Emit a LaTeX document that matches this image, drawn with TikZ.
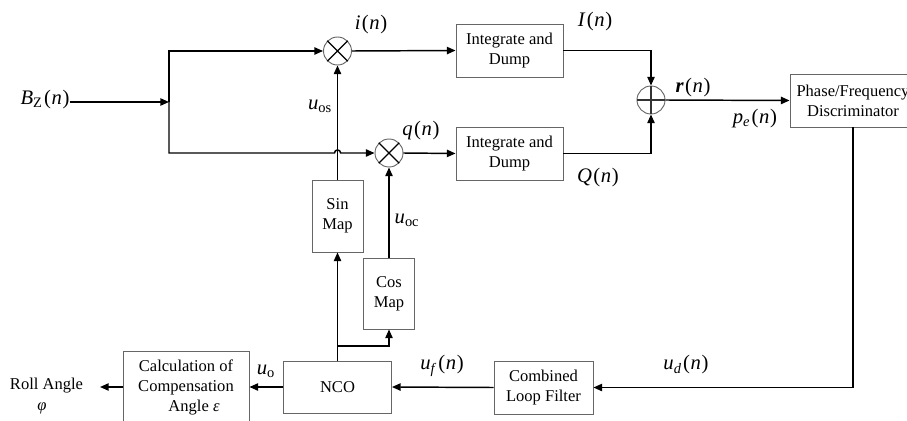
\documentclass[tikz,border=0pt]{standalone}
\usepackage{fontspec}
\setmainfont{Liberation Serif}
\usetikzlibrary{arrows.meta}
\newcommand{\lbl}[1]{\fontsize{15.5}{18}\selectfont #1}
\newcommand{\argn}{\kern1pt(\kern0.5pt\textit{n}\kern0.5pt)}
\begin{document}
\begin{tikzpicture}[x=0.75pt,y=-0.75pt,
  blk/.style={draw=black!60, line width=0.7pt, align=center, inner sep=0pt,
    font=\fontsize{12.4}{15}\selectfont},
  mix/.style={circle, draw=black!60, line width=0.7pt, minimum size=21pt, inner sep=0pt},
  conn/.style={line width=1.1pt, line join=miter},
  arr/.style={conn, -{Triangle[length=6.5pt,width=5.5pt]}},
  lab/.style={inner sep=0pt, font=\lbl}]
\useasboundingbox (0,0) rectangle (907,421);
% blocks
\node[blk, minimum width=80.25pt, minimum height=39.75pt] (id1) at (509.5,50.5) {Integrate and\\Dump};
\node[blk, minimum width=80.25pt, minimum height=39.75pt] (id2) at (509.5,153.5) {Integrate and\\Dump};
\node[blk, minimum width=94.5pt, minimum height=39.75pt] (pfd) at (853,100.5) {Phase/Frequency\\Discriminator};
\node[blk, minimum width=74.25pt, minimum height=39.75pt] (clf) at (543.5,387.5) {Combined\\Loop Filter};
\node[blk, minimum width=81pt, minimum height=39pt] (nco) at (337.5,387) {NCO};
\node[blk, minimum width=94.5pt, minimum height=54pt] (calc) at (186,387) {Calculation of\\Compensation\\\hspace*{12pt}Angle \textit{ε}};
\node[blk, minimum width=38.25pt, minimum height=54pt] (sin) at (337.5,216) {Sin\\Map};
\node[blk, minimum width=38.25pt, minimum height=53.25pt] (cos) at (389,293.5) {Cos\\Map};
% mixers and sum
\node[mix] (mi) at (337.5,51) {};
\draw[line width=1pt] (mi.45) -- (mi.225) (mi.135) -- (mi.315);
\node[mix] (mq) at (389,153) {};
\draw[line width=1pt] (mq.45) -- (mq.225) (mq.135) -- (mq.315);
\node[mix] (sum) at (651,100) {};
\draw[line width=0.9pt, black!80] (sum.north) -- (sum.south) (sum.west) -- (sum.east);
% coordinates
\coordinate (sp) at (169,102);
\coordinate (jl) at (334.5,153);
\coordinate (br) at (337.5,346);
\coordinate (rollend) at (100,387);
% labels
\node[lab] (bz) at (45,100) {\textit{B}\textsubscript{Z}\argn};
\node[lab] (il) at (371,25) {\textit{i}\argn};
\node[lab] (ql) at (421,131) {\textit{q}\argn};
\node[lab] (Il) at (595,22) {\textit{I}\argn};
\node[lab] (Ql) at (598,178) {\textit{Q}\argn};
\node[lab] (rl) at (693,88) {\textbf{\textit{r}}\argn};
\node[lab] (pl) at (755,119) {\textit{p}\textsubscript{\textit{e}}\argn};
\node[lab] (udl) at (686,365) {\textit{u}\textsubscript{\textit{d}}\argn};
\node[lab] (ufl) at (442,366) {\textit{u}\textsubscript{\textit{f}}\argn};
\node[lab] (uol) at (266,371) {\textit{u}\textsubscript{o}};
\node[lab] (uosl) at (320,106) {\textit{u}\textsubscript{os}};
\node[lab] (uocl) at (407,220) {\textit{u}\textsubscript{oc}};
\node[inner sep=0pt, align=center, font=\fontsize{12.4}{16}\selectfont] (roll) at (46.5,396) {Roll Angle\\\textit{φ}\hspace*{7pt}};
% connectors
\draw[arr] (bz.east |- sp) -- (sp);
\draw[arr] (sp) |- (mi.west);
\draw[arr] (sp) |- (jl) arc[start angle=180, end angle=0, radius=2.3pt] -- (mq.west);
\draw[arr] (sin.north) -- (mi.south);
\draw[arr] (cos.north) -- (mq.south);
\draw[arr] (mi.east) -- (id1.west);
\draw[arr] (mq.east) -- (id2.west);
\draw[arr] (id1.east) -| (sum.north);
\draw[arr] (id2.east) -| (sum.south);
\draw[arr] (sum.east) -- (pfd.west);
\draw[arr] (pfd.south) |- (clf.east);
\draw[arr] (clf.west) -- (nco.east);
\draw[arr] (nco.west) -- (calc.east);
\draw[arr] (calc.west) -- (rollend);
\draw[arr] (nco.north) -- (sin.south);
\draw[arr] (br) -| (cos.south);
\end{tikzpicture}
\end{document}
